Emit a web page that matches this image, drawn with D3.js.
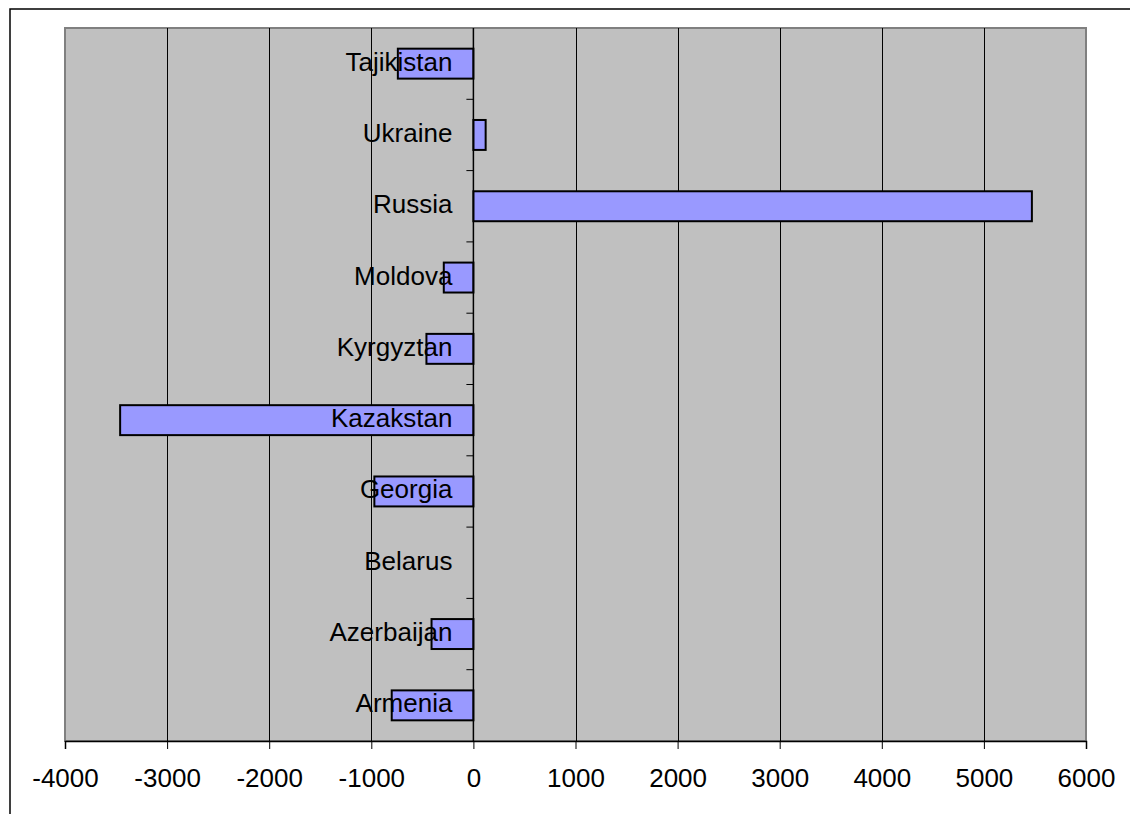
<!DOCTYPE html>
<html>
<head>
<meta charset="utf-8">
<script src="https://cdn.jsdelivr.net/npm/d3@7"></script>
<style>
  html, body { margin: 0; padding: 0; background: #fff; }
  svg { display: block; }
  text { font-family: Arial, "Liberation Sans", sans-serif; fill: #000; }
</style>
</head>
<body>
<svg id="chart" width="1130" height="814"></svg>
<script>
// Net values per country, listed bottom to top as in the category axis
const countries = ["Armenia", "Azerbaijan", "Belarus", "Georgia", "Kazakstan",
                   "Kyrgyztan", "Moldova", "Russia", "Ukraine", "Tajikistan"];
const values = [-800, -410, 0, -970, -3460, -460, -290, 5470, 120, -740];
const xTicks = [-4000, -3000, -2000, -1000, 0, 1000, 2000, 3000, 4000, 5000, 6000];

const svg = d3.select("#chart");
const plot = { left: 65, top: 28, right: 1086, bottom: 741 };

// Outer chart frame
svg.append("rect")
  .attr("x", 10).attr("y", 9).attr("width", 1300).attr("height", 1000)
  .attr("fill", "#fff").attr("stroke", "#000").attr("stroke-width", 1.5);

const x = d3.scaleLinear().domain([-4000, 6000]).range([plot.left, plot.right]);
const y = d3.scaleBand()
  .domain(countries.slice().reverse())
  .range([plot.top, plot.bottom])
  .paddingInner(0.58).paddingOuter(0.29);

// Plot area
svg.append("rect")
  .attr("x", plot.left).attr("y", plot.top)
  .attr("width", plot.right - plot.left).attr("height", plot.bottom - plot.top)
  .attr("fill", "#c0c0c0").attr("stroke", "#808080").attr("stroke-width", 2);

// Vertical gridlines
svg.append("g").selectAll("line")
  .data(xTicks.filter(d => d !== -4000 && d !== 6000 && d !== 0))
  .join("line")
  .attr("x1", d => Math.round(x(d)) + 0.5).attr("x2", d => Math.round(x(d)) + 0.5)
  .attr("y1", plot.top).attr("y2", plot.bottom)
  .attr("stroke", "#000").attr("stroke-width", 1);

// Bottom value axis
const xAxis = d3.axisBottom(x).tickValues(xTicks).tickSize(8).tickPadding(20)
  .tickFormat(d3.format("d"));
const gx = svg.append("g").attr("transform", `translate(0,${plot.bottom})`).call(xAxis);
gx.select(".domain").attr("stroke", "#000").attr("stroke-width", 1.5);
gx.selectAll(".tick line").attr("stroke", "#000");
gx.selectAll(".tick text").attr("font-size", 26).attr("fill", "#000")
  .style("font-family", "Arial, 'Liberation Sans', sans-serif")
  .text(d => d < 0 ? "-" + Math.abs(d) : String(d));

// Bars
svg.append("g").selectAll("rect")
  .data(countries.map((c, i) => ({ c, v: values[i] })).filter(d => d.v !== 0))
  .join("rect")
  .attr("x", d => x(Math.min(0, d.v)))
  .attr("y", d => y(d.c))
  .attr("width", d => Math.abs(x(d.v) - x(0)))
  .attr("height", y.bandwidth())
  .attr("fill", "#9999ff").attr("stroke", "#000").attr("stroke-width", 2);

// Category axis at zero
const x0 = x(0);
svg.append("line")
  .attr("x1", x0).attr("x2", x0).attr("y1", plot.top).attr("y2", plot.bottom)
  .attr("stroke", "#000").attr("stroke-width", 1.5);

const step = y.step();
svg.append("g").selectAll("line")
  .data(d3.range(1, countries.length))
  .join("line")
  .attr("x1", x0 - 7).attr("x2", x0)
  .attr("y1", i => plot.top + i * step).attr("y2", i => plot.top + i * step)
  .attr("stroke", "#000").attr("stroke-width", 1);

svg.append("g").selectAll("text")
  .data(countries)
  .join("text")
  .attr("x", x0 - 21)
  .attr("y", d => y(d) + y.bandwidth() / 2 + 7)
  .attr("text-anchor", "end")
  .attr("font-size", 26)
  .text(d => d);
</script>
</body>
</html>
